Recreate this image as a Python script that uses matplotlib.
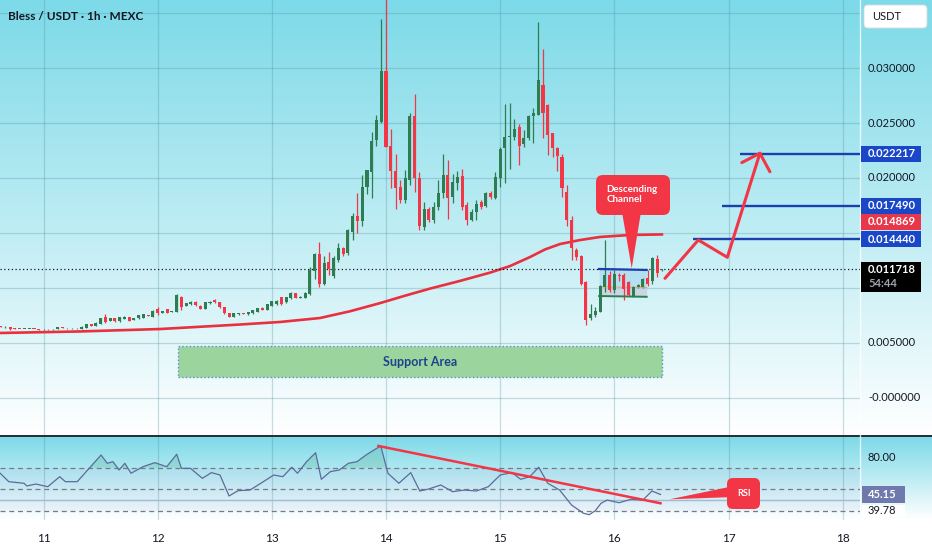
import numpy as np
import matplotlib.pyplot as plt
from matplotlib.patches import FancyBboxPatch, Polygon, Rectangle
from matplotlib.transforms import blended_transform_factory

plt.rcParams['font.family'] = ['Lato', 'DejaVu Sans']

W, H = 932, 550
GREEN = '#2e7d52'
RED = '#f23645'
BLUE = '#1c3fae'
INK = '#131722'
GRID = '#4f8e9c'

# hourly candles, hour 0 = day 11 00:00, prices in 1e-3 USDT
hours = np.arange(-9, 131)
opens = [
    6.50, 6.42, 6.43, 6.32, 6.29, 6.27, 6.25, 6.28, 6.26, 6.23,
    6.24, 6.23, 6.25, 6.40, 6.35, 6.33, 6.34, 6.28, 6.40, 6.70,
    6.56, 6.72, 7.34, 7.00, 7.25, 6.97, 7.20, 7.34, 7.10, 7.25,
    7.30, 7.55, 7.34, 8.06, 7.76, 8.06, 7.80, 7.85, 9.15, 8.40,
    8.50, 8.72, 8.40, 8.12, 8.60, 8.90, 8.72, 8.25, 7.72, 7.40,
    7.60, 7.70, 7.60, 7.70, 7.80, 8.20, 8.00, 8.40, 8.50, 9.15,
    8.70, 9.05, 9.50, 9.10, 9.10, 9.45, 11.5, 13.1, 10.4, 12.4,
    11.1, 12.5, 13.6, 13.2, 15.1, 16.5, 16.05, 19.2, 20.5, 23.45,
    25.1, 29.75, 22.9, 20.6, 19.15, 18.0, 19.8, 25.6, 20.0, 15.5,
    17.15, 16.2, 17.4, 18.66, 20.3, 18.25, 19.5, 20.2, 17.5, 16.2,
    16.95, 17.8, 17.45, 18.66, 18.15, 20.0, 22.7, 23.75, 23.75, 24.6,
    23.1, 23.6, 25.6, 25.7, 28.45, 26.6, 24.06, 22.75, 21.9, 18.75,
    16.2, 13.45, 12.9, 10.5, 7.25, 7.55, 7.85, 10.1, 11.2, 9.8,
    11.2, 11.2, 10.5, 9.3, 10.06, 10.1, 10.9, 10.6, 12.6, 11.6,
]
highs = [
    6.56, 6.50, 6.46, 6.34, 6.31, 6.30, 6.31, 6.30, 6.28, 6.26,
    6.27, 6.28, 6.45, 6.42, 6.37, 6.36, 6.36, 6.50, 6.72, 6.74,
    6.88, 7.27, 7.64, 7.28, 7.30, 7.36, 7.42, 7.38, 7.27, 7.57,
    7.62, 7.58, 7.96, 8.30, 7.93, 8.10, 7.93, 9.45, 9.30, 8.65,
    8.85, 8.78, 8.45, 8.72, 8.78, 9.00, 8.76, 8.28, 7.76, 7.74,
    7.72, 7.73, 7.82, 8.02, 8.22, 8.24, 8.52, 8.82, 8.88, 9.22,
    9.18, 9.60, 9.55, 9.24, 9.60, 11.9, 13.2, 14.15, 12.9, 13.3,
    12.9, 14.06, 13.7, 15.4, 16.8, 18.66, 20.3, 20.7, 24.2, 25.7,
    34.5, 37.0, 24.5, 22.2, 19.8, 20.7, 25.9, 27.6, 20.5, 17.85,
    17.4, 17.85, 19.8, 22.2, 21.6, 20.4, 20.6, 20.8, 17.85, 17.2,
    18.0, 18.0, 18.7, 18.8, 20.5, 22.85, 26.7, 26.8, 25.4, 24.9,
    24.4, 25.7, 26.4, 34.2, 31.7, 26.7, 24.1, 22.85, 22.2, 19.4,
    16.5, 13.6, 13.0, 10.6, 8.55, 8.3, 10.3, 14.4, 11.5, 11.6,
    11.33, 11.4, 10.6, 10.2, 10.35, 10.9, 11.6, 12.8, 13.0, 11.75,
]
lows = [
    6.42, 6.40, 6.22, 6.26, 6.25, 6.24, 6.23, 6.24, 6.20, 6.20,
    6.21, 6.22, 6.24, 6.34, 6.31, 6.31, 6.30, 6.26, 6.38, 6.56,
    6.54, 6.70, 6.79, 6.96, 6.95, 6.94, 7.18, 7.00, 7.08, 7.22,
    7.28, 7.43, 7.32, 7.55, 7.74, 7.74, 7.78, 7.80, 8.00, 8.35,
    8.45, 8.40, 8.05, 8.10, 8.55, 8.66, 8.22, 7.68, 7.38, 7.38,
    7.58, 7.60, 7.58, 7.68, 7.78, 7.98, 7.98, 8.38, 8.48, 8.45,
    8.68, 9.02, 9.05, 9.05, 9.08, 9.40, 10.8, 10.06, 10.3, 11.2,
    10.9, 12.4, 12.9, 13.0, 14.4, 15.0, 15.6, 18.5, 18.2, 22.9,
    25.0, 22.8, 19.06, 17.2, 17.7, 17.7, 19.4, 18.75, 15.3, 15.3,
    16.0, 15.95, 17.1, 18.2, 16.3, 17.7, 18.9, 17.1, 15.7, 16.1,
    16.2, 17.2, 17.4, 18.1, 18.06, 19.2, 19.5, 20.8, 23.45, 21.2,
    22.85, 23.5, 23.2, 25.7, 23.6, 22.1, 21.9, 20.66, 18.3, 15.6,
    12.5, 12.5, 10.3, 6.6, 7.1, 7.4, 7.8, 9.65, 9.6, 9.55,
    10.6, 8.9, 9.3, 9.2, 10.0, 10.0, 10.2, 10.4, 11.0, 11.55,
]
closes = [
    6.45, 6.46, 6.25, 6.29, 6.27, 6.28, 6.29, 6.26, 6.22, 6.24,
    6.23, 6.27, 6.43, 6.36, 6.33, 6.35, 6.32, 6.48, 6.70, 6.58,
    6.85, 7.25, 6.94, 7.25, 6.97, 7.34, 7.39, 7.03, 7.25, 7.55,
    7.60, 7.45, 7.94, 7.70, 7.90, 7.76, 7.90, 9.36, 8.30, 8.60,
    8.75, 8.45, 8.10, 8.70, 8.75, 8.70, 8.25, 7.70, 7.40, 7.72,
    7.70, 7.62, 7.80, 8.00, 8.20, 8.00, 8.50, 8.80, 8.85, 8.50,
    9.15, 9.55, 9.10, 9.20, 9.55, 11.6, 13.1, 10.4, 12.3, 11.7,
    12.7, 13.6, 13.1, 15.25, 16.5, 16.1, 19.2, 20.7, 23.4, 25.3,
    29.75, 22.85, 20.6, 19.06, 18.0, 20.0, 25.6, 20.0, 15.6, 17.15,
    16.2, 17.4, 18.66, 20.3, 18.15, 19.6, 20.1, 17.4, 16.2, 16.95,
    17.6, 17.4, 18.6, 18.25, 20.06, 22.6, 23.75, 23.85, 24.5, 22.9,
    23.6, 25.6, 25.9, 28.9, 25.9, 23.9, 22.7, 22.0, 19.06, 16.2,
    13.6, 12.85, 10.4, 7.1, 7.6, 7.9, 10.2, 11.2, 9.8, 11.3,
    11.1, 9.9, 9.36, 10.06, 10.27, 10.8, 10.4, 12.7, 11.4, 11.72,
]

# long moving average
ma_hours = [-9.1, 7.7, 24.5, 41.3, 49.7, 58.1, 64.4, 70.7, 76.0, 81.3, 87.6,
            93.9, 98.1, 102.3, 105.4, 108.6, 112.8, 117.0, 123.3, 130.0]
ma_vals = [5.91, 6.05, 6.27, 6.68, 6.91, 7.27, 7.88, 8.62, 9.30, 9.95, 10.65,
           11.40, 12.0, 12.82, 13.5, 14.0, 14.36, 14.64, 14.82, 14.87]

# RSI
rsi_hours = [-9.1, -7.3, -4.1, -3.5, -1.6, 0.9, 3.4, 4.6, 7.1, 9.6, 12.1, 13.4, 14.6,
             15.9, 17.1, 18.4, 20.9, 23.4, 25.9, 28.0, 29.0, 30.9, 33.4, 35.3, 37.1,
             39.0, 40.9, 43.4, 45.9, 48.4, 50.3, 52.2, 53.4, 55.3, 57.2, 58.4, 60.3,
             62.2, 64.1, 65.9, 67.8, 69.7, 70.9, 72.4, 74.7, 77.2, 79.1, 81.0, 83.5,
             86.0, 88.5, 91.0, 93.5, 96.0, 98.5, 100.3, 102.2, 104.1, 106.0, 108.5,
             111.0, 113.5, 114.7, 116.0, 117.2, 118.5, 121.0, 123.5, 126.0, 127.9, 129.7]
rsi_vals = [64.9, 57.1, 55.6, 53.1, 54.9, 52.4, 61.7, 57.1, 57.1, 69.5, 81.9, 74.2, 75.7,
            68.0, 74.2, 64.9, 71.0, 74.8, 71.0, 82.6, 69.5, 69.5, 60.2, 65.5, 63.3,
            43.8, 48.7, 49.3, 56.2, 63.3, 61.7, 70.5, 64.9, 75.7, 84.0, 59.3, 66.4,
            68.0, 74.2, 75.7, 81.9, 87.2, 90.3, 64.9, 55.6, 65.5, 48.4, 50.3, 54.0,
            47.8, 49.3, 48.4, 52.4, 63.3, 65.5, 59.3, 61.7, 70.5, 55.6, 49.3,
            35.4, 27.7, 26.4, 30.1, 37.0, 40.0, 37.5, 40.7, 40.0, 48.4, 45.2]
rsi_last = 45.15
rsi_ma = 39.78
rsi_trend_h = [70.4, 129.7]
rsi_trend_v = [90.3, 37.0]

day_ticks = [0, 24, 48, 72, 96, 120, 144, 168]
day_labels = ['11', '12', '13', '14', '15', '16', '17', '18']
# scale labels that stay visible (others sit under the tags)
price_ticks = [0, 5, 10, 15, 20, 25, 30, 35]
shown_ticks = [0, 5, 20, 25, 30]
shown_labels = ['-0.000000', '0.005000', '0.020000', '0.025000', '0.030000']

# annotations (1e-3 USDT)
targets = [14.440, 17.490, 22.217]
target_from = [136.6, 142.6, 146.4]
last_price = 11.718
ma_last = 14.869
support_lo, support_hi = 1.9, 4.73
support_from, support_to = 28.2, 130.0
chan_from, chan_to = 116.8, 126.8
chan_top = [11.73, 11.64]
chan_mid = [10.1, 10.05]
chan_bot = [9.27, 9.20]
path_h = [130.65, 137.65, 143.75, 150.6]
path_p = [10.88, 14.36, 12.79, 22.25]
wing_h = [146.8, 150.6, 152.7]
wing_p = [21.4, 22.25, 20.57]

o = np.array(opens)
hi = np.array(highs)
lo = np.array(lows)
c = np.array(closes)

fig = plt.figure(figsize=(W / 100, H / 100), dpi=100)

# background panes
bg = fig.add_axes([0, 0, 1, 1])
bg.set_xlim(0, W)
bg.set_ylim(H, 0)
bg.axis('off')
top_c = np.array([125, 218, 232]) / 255
img = np.ones((H, 1, 3))
t = np.linspace(0, 1, 435)[:, None] ** 1.05
img[0:435, 0, :] = top_c * (1 - t) + t
img[435:437, 0, :] = [0.17, 0.18, 0.22]
t2 = np.linspace(0, 1, 83)[:, None]
img[437:520, 0, :] = top_c * (1 - t2) + t2
bg.imshow(img, extent=(0, W, H, 0), aspect='auto', interpolation='nearest')
bg.plot([860, 860], [0, 520], color='white', lw=1, alpha=0.8)

# price pane
ax = fig.add_axes([0, 1 - 435 / H, 860 / W, 435 / H])
ax.patch.set_alpha(0)
ax.set_xlim(-9.145, 171.64)
ax.set_ylim(-3.364, 36.182)
for s in ax.spines.values():
    s.set_visible(False)
ax.set_xticks([])
ax.set_yticks([])

for p in price_ticks:
    ax.axhline(p, color=GRID, lw=0.9, alpha=0.3, zorder=0)
for d in day_ticks:
    ax.axvline(d, color=GRID, lw=0.9, alpha=0.3, zorder=0)

ax.add_patch(Rectangle((support_from, support_lo), support_to - support_from,
                       support_hi - support_lo, fc='#9bd59d', ec='#5b8fc9',
                       lw=1, ls=':', zorder=1))
ax.text((support_from + support_to) / 2, (support_lo + support_hi) / 2, 'Support Area',
        ha='center', va='center', fontsize=9, fontweight='bold', color='#23408e', zorder=2)

ax.plot(ma_hours, ma_vals, color='#e8303f', lw=1.9, zorder=2)

up = c >= o
col = np.where(up, GREEN, RED)
ax.vlines(hours, lo, hi, colors=col, lw=0.9, zorder=3)
body = np.maximum(np.abs(c - o), 0.07)
ax.bar(hours, body, bottom=np.minimum(o, c), width=0.64, color=col, lw=0, zorder=4)

# descending channel
ax.fill_between([chan_from, chan_to], chan_top, chan_mid, color='#9fd2ee', alpha=0.55, zorder=2, lw=0)
ax.fill_between([chan_from, chan_to], chan_mid, chan_bot, color='#c4c9d6', alpha=0.65, zorder=2, lw=0)
ax.plot([chan_from, chan_to], chan_mid, color='#e09a5a', lw=0.6, zorder=3)
ax.plot([chan_from, chan_to], chan_top, color=BLUE, lw=1.6, zorder=5)
ax.plot([chan_from, chan_to], chan_bot, color='#2e7d52', lw=1.4, zorder=5)

ax.axhline(last_price, color=INK, lw=0.9, ls=(0, (1, 2)), zorder=3)

ax.hlines(targets, target_from, 171.64, colors=BLUE, lw=1.7, zorder=5)
ax.plot(path_h, path_p, color=RED, lw=2.2, zorder=6, solid_capstyle='round')
ax.plot(wing_h, wing_p, color=RED, lw=2.2, zorder=6, solid_capstyle='round')

# right scale labels
tr = blended_transform_factory(bg.transData, ax.transData)
for p, lab in zip(shown_ticks, shown_labels):
    ax.text(868, p, lab, transform=tr, ha='left', va='center', fontsize=8,
            color=INK, clip_on=False, zorder=7)


def tag(p, text, fc, y_shift=0.0):
    ax.add_patch(Rectangle((861, p + y_shift - 0.727), 60, 1.454, transform=tr,
                           fc=fc, ec='none', clip_on=False, zorder=8))
    ax.text(868, p + y_shift, text, transform=tr, ha='left', va='center', fontsize=8,
            fontweight='bold', color='white', clip_on=False, zorder=9)


tag(targets[2], '0.022217', '#1a46c8')
tag(targets[1], '0.017490', '#1a46c8')
tag(targets[0], '0.014440', '#1a46c8')
tag(ma_last, '0.014869', '#e8374a', y_shift=1.16)
ax.add_patch(Rectangle((861, last_price - 2.06), 60, 2.73, transform=tr, fc='black',
                       ec='none', clip_on=False, zorder=8))
ax.text(868, last_price, '0.011718', transform=tr, ha='left', va='center', fontsize=8,
        fontweight='bold', color='white', clip_on=False, zorder=9)
ax.text(868, last_price - 1.3, '54:44', transform=tr, ha='left', va='center', fontsize=8,
        fontweight='bold', color='#a0a4ad', clip_on=False, zorder=9)

# RSI pane
rax = fig.add_axes([0, 1 - 520 / H, 860 / W, 83 / H])
rax.patch.set_alpha(0)
rax.set_xlim(-9.145, 171.64)
rax.set_ylim(21.44, 98.65)
for s in rax.spines.values():
    s.set_visible(False)
rax.set_yticks([])
rax.set_xticks(day_ticks)
rax.set_xticklabels(day_labels)
rax.tick_params(axis='x', length=0, pad=9, labelsize=8.5, labelcolor=INK)
for d in day_ticks:
    rax.axvline(d, color=GRID, lw=0.9, alpha=0.3, zorder=0)
rax.axhspan(30, 70, color='#7e57c2', alpha=0.05, lw=0)
for lvl in (70, 50, 30):
    rax.axhline(lvl, color='#787b86', lw=0.9, ls=(0, (4, 3)), zorder=1)
rax.axhline(rsi_ma, color='#9fbcd0', lw=1.0, zorder=1)
rh = np.array(rsi_hours)
rv = np.array(rsi_vals)
rax.fill_between(rh, rv, 70, where=rv >= 70, interpolate=True, color='#3fa37a', alpha=0.22, lw=0)
rax.plot(rh, rv, color='#5d6b99', lw=0.9, zorder=3)
rax.plot(rsi_trend_h, rsi_trend_v, color=RED, lw=1.8, zorder=4)

rtr = blended_transform_factory(bg.transData, rax.transData)
rax.text(868, 80, '80.00', transform=rtr, ha='left', va='center', fontsize=8,
         color=INK, clip_on=False)
rax.add_patch(Rectangle((862, rsi_last - 8.2), 43, 16.4, transform=rtr, fc='#6f79ad',
                        ec='none', clip_on=False, zorder=8))
rax.text(868, rsi_last, f'{rsi_last:.2f}', transform=rtr, ha='left', va='center',
         fontsize=8, fontweight='bold', color='white', clip_on=False, zorder=9)
rax.add_patch(Rectangle((862, 30.2 - 5.6), 43, 11.2, transform=rtr, fc='white',
                        ec='none', clip_on=False, zorder=8))
rax.text(868, 30.2, f'{rsi_ma:.2f}', transform=rtr, ha='left', va='center',
         fontsize=8, color=INK, clip_on=False, zorder=9)

# overlay for callouts (pixel coords)
ov = fig.add_axes([0, 0, 1, 1], zorder=10)
ov.set_xlim(0, W)
ov.set_ylim(H, 0)
ov.axis('off')
ov.patch.set_alpha(0)

ov.add_patch(FancyBboxPatch((866, 7), 59, 19, boxstyle='round,pad=2,rounding_size=4',
                            fc='white', ec='#d8dde3', lw=0.6))
ov.text(872, 17, 'USDT', ha='left', va='center', fontsize=8, color=INK)
ov.text(8, 17, 'Bless / USDT · 1h · MEXC', ha='left', va='center', fontsize=8.5,
        fontweight='bold', color=INK)

ov.add_patch(FancyBboxPatch((600, 179), 66, 32, boxstyle='round,pad=4,rounding_size=7',
                            fc=RED, ec='none'))
ov.add_patch(Polygon([(622, 212), (641, 212), (631.7, 268.3)], closed=True, fc=RED, ec='none'))
ov.text(606.5, 194.5, 'Descending\nChannel', ha='left', va='center', fontsize=7,
        fontweight='bold', color='white', linespacing=1.05)

ov.add_patch(FancyBboxPatch((730, 481), 27, 25, boxstyle='round,pad=3,rounding_size=6',
                            fc=RED, ec='none'))
ov.add_patch(Polygon([(669.6, 499.3), (734, 486), (734, 497)], closed=True, fc=RED, ec='none'))
ov.text(743.5, 493.5, 'RSI', ha='center', va='center', fontsize=6.5, fontweight='bold',
        color='white')

fig.savefig('out.png', dpi=100)
